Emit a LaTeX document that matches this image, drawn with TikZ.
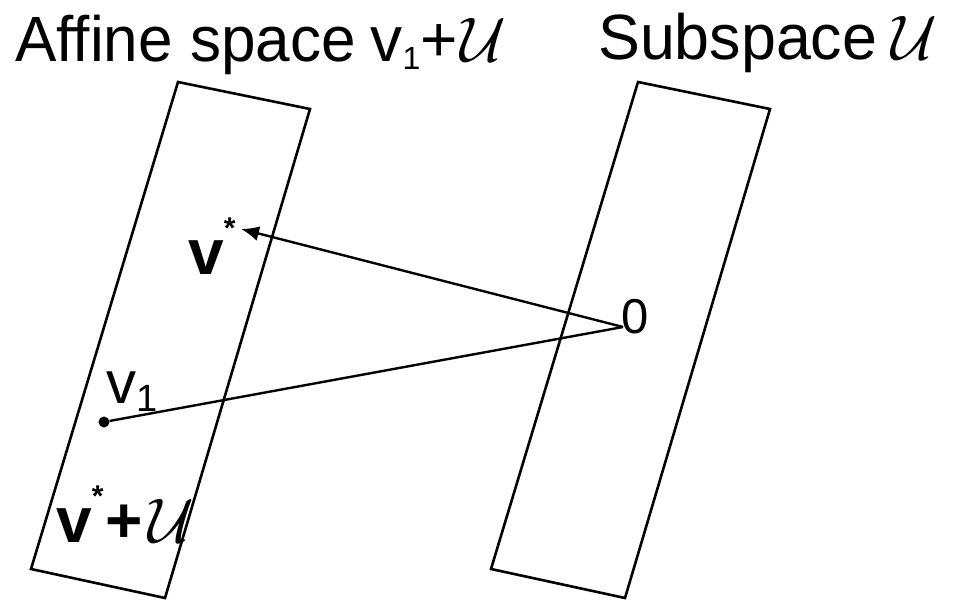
\documentclass[tikz,border=0pt]{standalone}
\usepackage{fontspec}
\usepackage{graphicx}
\setmainfont{Liberation Sans}
\usetikzlibrary{arrows.meta}
\newcommand{\fs}[1]{\fontsize{#1}{#1}\selectfont}
\newcommand{\bigU}{\scalebox{6.3}{\fs{10}$\mathcal{U}$}}
\begin{document}
\begin{tikzpicture}[x=1pt,y=1pt,
  box/.style={line width=2.6pt,line join=miter},
  conn/.style={line width=2.4pt},
  lbl/.style={inner sep=0pt,anchor=base west}]
\useasboundingbox[fill=white] (0,0) rectangle (960,-601);
% slabs
\draw[box] (178,-82) -- (310,-109) -- (165,-598) -- (31,-569) -- cycle;
\draw[box] (638,-82) -- (770,-109) -- (625,-598) -- (491,-569) -- cycle;
% titles
\node[lbl] (t1) at (15,-62) {\fs{64}\scalebox{0.97}[1]{Affine space}\hspace{15pt}v\raisebox{-8pt}{\fs{32}1}+\hspace{3pt}\bigU};
\node[lbl] (t2) at (598,-60) {\fs{64}\scalebox{0.98}[1]{Subspace}\hspace{14pt}\bigU};
% labels
\node[lbl] (vstar) at (188,-275) {\fs{64}\bfseries v\raisebox{36pt}{\fs{30}*}};
\node[lbl] (vone) at (106,-403) {\fs{60}v\raisebox{-8pt}{\fs{38}1}};
\node[lbl] (zero) at (621,-333) {\fs{49}0};
\node[lbl] (vsu) at (56,-542) {\fs{64}\bfseries v\raisebox{36pt}{\fs{30}*}\hspace{2pt}+\hspace{6pt}\bigU};
% points
\coordinate (o) at (623,-327);
\coordinate (vtip) at (241,-229);
\node[circle,fill,inner sep=0pt,minimum size=11pt] (p1) at (104,-422) {};
% connectors
\draw[conn,-{Latex[length=18pt,width=15pt]}] (o) -- (vtip);
\draw[conn] (o) -- (p1);
\end{tikzpicture}
\end{document}
